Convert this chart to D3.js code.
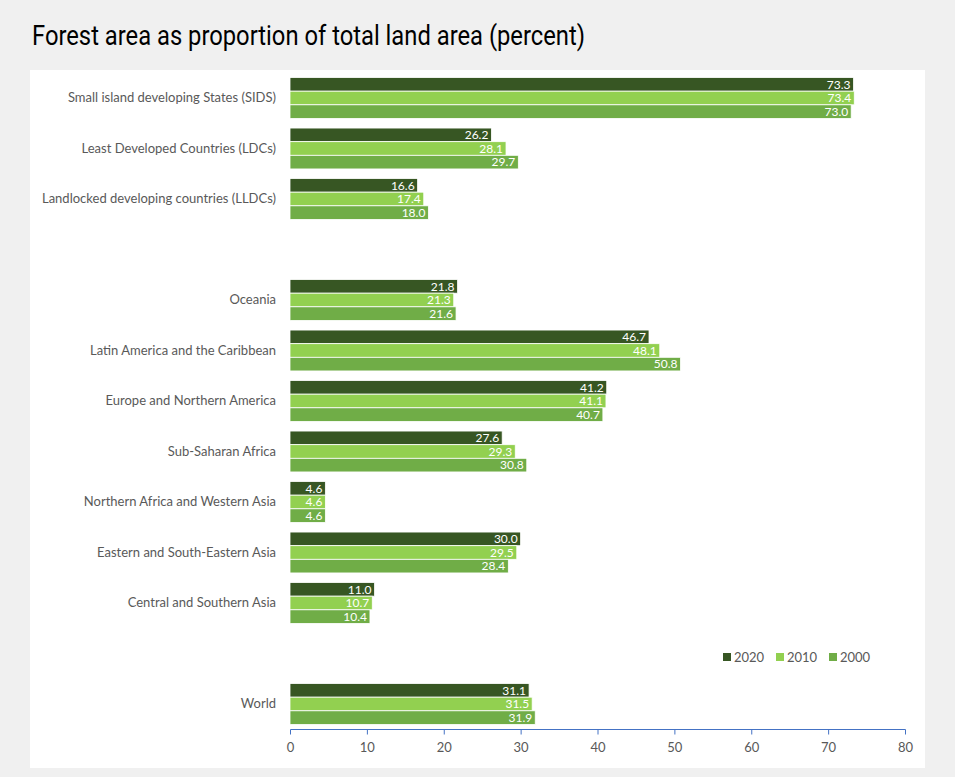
<!DOCTYPE html>
<html><head><meta charset="utf-8">
<script src="https://cdn.jsdelivr.net/npm/d3@7"></script>
<style>
body{margin:0;background:#f0f0f0;}
svg{display:block;}
</style></head>
<body>
<svg id="chart" width="955" height="777"></svg>
<script>
const categories = [
  "Small island developing States (SIDS)",
  "Least Developed Countries (LDCs)",
  "Landlocked developing countries (LLDCs)",
  "",
  "Oceania",
  "Latin America and the Caribbean",
  "Europe and Northern America",
  "Sub-Saharan Africa",
  "Northern Africa and Western Asia",
  "Eastern and South-Eastern Asia",
  "Central and Southern Asia",
  " ",
  "World"
];
const years = ["2020", "2010", "2000"];
const values2020 = [73.3, 26.2, 16.6, null, 21.8, 46.7, 41.2, 27.6, 4.6, 30.0, 11.0, null, 31.1];
const values2010 = [73.4, 28.1, 17.4, null, 21.3, 48.1, 41.1, 29.3, 4.6, 29.5, 10.7, null, 31.5];
const values2000 = [73.0, 29.7, 18.0, null, 21.6, 50.8, 40.7, 30.8, 4.6, 28.4, 10.4, null, 31.9];
const xTicks = [0, 10, 20, 30, 40, 50, 60, 70, 80];
const colors = {"2020": "#375623", "2010": "#92d050", "2000": "#70ad47"};
const title = "Forest area as proportion of total land area (percent)";

const seriesData = {"2020": values2020, "2010": values2010, "2000": values2000};

const svg = d3.select("#chart");
svg.append("rect").attr("x",0).attr("y",0).attr("width",955).attr("height",777).attr("fill","#f0f0f0");
svg.append("rect").attr("x",30).attr("y",70).attr("width",895).attr("height",698).attr("fill","#ffffff");

svg.append("text").attr("x",32).attr("y",45)
  .attr("font-family","Roboto, sans-serif")
  .attr("font-size",27).attr("fill","#000")
  .attr("textLength",553).attr("lengthAdjust","spacingAndGlyphs")
  .text(title);

const x = d3.scaleLinear().domain([0,80]).range([290,905]);
const y = d3.scaleBand().domain(categories).range([72.75,729.25]).paddingInner(0.19).paddingOuter(0.095);
const ySub = d3.scaleBand().domain(years).range([0, y.bandwidth()]);

const font = "Lato, 'Open Sans', sans-serif";

categories.forEach((c,i)=>{
  const g = svg.append("g").attr("transform",`translate(0,${y(c)})`);
  years.forEach(yr=>{
    const v = seriesData[yr][i];
    if (v == null) return;
    g.append("rect").attr("x",x(0)).attr("y",ySub(yr))
      .attr("width",x(v)-x(0)).attr("height",ySub.bandwidth())
      .attr("fill",colors[yr]).attr("stroke","#ffffff").attr("stroke-width",0.8);
    g.append("text").attr("x",x(v)-3).attr("y",ySub(yr)+ySub.bandwidth()/2)
      .attr("dy","0.36em").attr("text-anchor","end")
      .attr("font-family",font).attr("font-size",12).attr("fill","#ffffff")
      .text(v.toFixed(1));
  });
});

// category labels
const yAxis = d3.axisLeft(y).tickSize(0).tickPadding(14).tickFormat(d=>d.trim());
const ya = svg.append("g").attr("transform",`translate(${x(0)},0)`).call(yAxis);
ya.select(".domain").remove();
ya.selectAll("text").attr("font-family",font).attr("font-size",13).attr("fill","#595959");

// x axis
const xAxis = d3.axisBottom(x).tickValues(xTicks).tickSize(5).tickPadding(8).tickFormat(d3.format("d"));
const xa = svg.append("g").attr("transform",`translate(0,729.5)`).call(xAxis);
xa.select(".domain").attr("stroke","#4472c4").attr("d","M290.5,0H905.5");
xa.selectAll(".tick line").attr("stroke","#4472c4");
xa.selectAll("text").attr("font-family",font).attr("font-size",13).attr("fill","#595959");

// legend
const legX = [723, 776, 829];
years.forEach((yr,i)=>{
  svg.append("rect").attr("x",legX[i]).attr("y",653).attr("width",8).attr("height",8).attr("fill",colors[yr]);
  svg.append("text").attr("x",legX[i]+11).attr("y",657).attr("dy","0.36em")
    .attr("font-family",font).attr("font-size",13).attr("fill","#595959").text(yr);
});
</script>
</body></html>
